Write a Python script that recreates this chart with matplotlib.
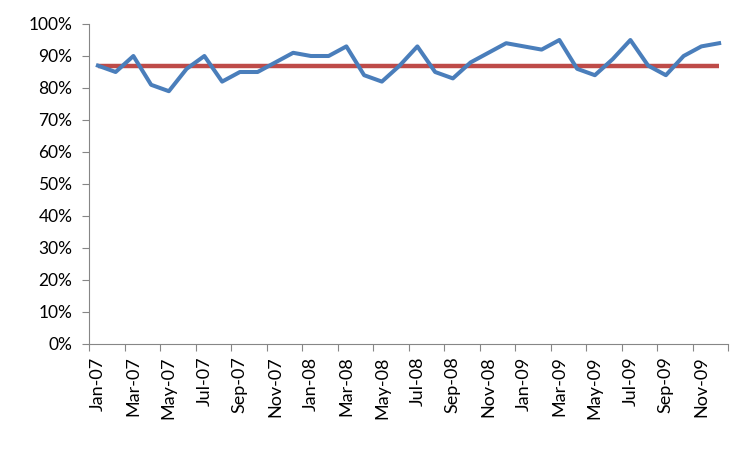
import matplotlib
matplotlib.use('Agg')
import matplotlib.pyplot as plt
from matplotlib.ticker import FixedLocator, PercentFormatter

# monthly values, Jan-07 .. Dec-09
months = ['Jan', 'Feb', 'Mar', 'Apr', 'May', 'Jun',
          'Jul', 'Aug', 'Sep', 'Oct', 'Nov', 'Dec']
years = ['07', '08', '09']
labels = [m + '-' + y for y in years for m in months]

actual = [87, 85, 90, 81, 79, 86, 90, 82, 85, 85, 88, 91,
          90, 90, 93, 84, 82, 87, 93, 85, 83, 88, 91, 94,
          93, 92, 95, 86, 84, 89, 95, 87, 84, 90, 93, 94]
target = [87] * 36

plt.rcParams['font.family'] = ['Lato', 'DejaVu Sans']

fig = plt.figure(figsize=(7.52, 4.51), dpi=100)
ax = fig.add_axes([89 / 752, 107 / 451, 639 / 752, 320 / 451])

x = list(range(len(actual)))
ax.plot(x, target, '-', color='#BE4B48', lw=3.2, solid_capstyle='butt', zorder=2)
ax.plot(x, actual, '-', color='#4A7EBB', lw=2.9, zorder=3)

ax.set_xlim(-0.5, len(actual) - 0.5)
ax.set_ylim(0, 100)

# y axis
ax.set_yticks(range(0, 101, 10))
ax.yaxis.set_major_formatter(PercentFormatter(decimals=0))

# x axis: tick marks on category boundaries, labels every other month
ax.xaxis.set_major_locator(FixedLocator([i - 0.5 for i in range(0, 37, 2)]))
ax.xaxis.set_major_formatter(plt.NullFormatter())
ax.xaxis.set_minor_locator(FixedLocator(x[::2]))
ax.set_xticklabels(labels[::2], minor=True, rotation=90)

ax.tick_params(axis='x', which='major', direction='out', length=5, color='#868686')
ax.tick_params(axis='x', which='minor', length=0, pad=9, labelsize=13)
ax.tick_params(axis='y', direction='out', length=5, color='#868686', labelsize=12.5, pad=7)

for s in ['top', 'right']:
    ax.spines[s].set_visible(False)
for s in ['left', 'bottom']:
    ax.spines[s].set_color('#868686')

fig.savefig('out.png', dpi=100)
